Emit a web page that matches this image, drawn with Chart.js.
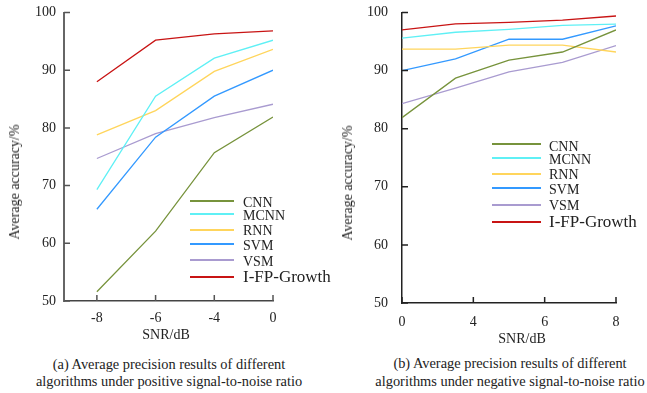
<!DOCTYPE html>
<html lang="en">
<head>
<meta charset="UTF-8">
<title>Average precision results</title>
<script src="https://cdn.jsdelivr.net/npm/chart.js"></script>
<style>
  body {
    margin: 0;
    width: 647px;
    height: 393px;
    background: #fff;
    position: relative;
    overflow: hidden;
    font-family: 'Liberation Serif', 'Times New Roman', serif;
    color: #222;
  }
  canvas { position: absolute; top: 0; }
  .t { position: absolute; white-space: nowrap; line-height: 1; }
  .c { transform: translate(-50%, -50%); }
  .ytitle { font-size: 14px; transform: translate(-50%, -50%) rotate(-90deg); }
  .xtitle { font-size: 14px; }
  .cap { font-size: 14.4px; }
  .lg-line { position: absolute; height: 2px; }
  .lg-text { position: absolute; font-size: 14px; line-height: 1; transform: translateY(-50%); white-space: nowrap; }
</style>
</head>
<body>
<canvas id="chartA" width="300" height="345" style="left:0;width:300px;height:345px"></canvas>
<canvas id="chartB" width="322" height="350" style="left:325px;width:322px;height:350px"></canvas>

<div class="t ytitle" style="left:15px;top:182px">Average accuracy/%</div>
<div class="t ytitle" style="left:348px;top:183px">Average accuracy/%</div>
<div class="t c xtitle" style="left:166px;top:335px">SNR/dB</div>
<div class="t c xtitle" style="left:522px;top:339px">SNR/dB</div>
<div class="t c cap" style="left:169px;top:364px">(a) Average precision results of different</div>
<div class="t c cap" style="left:169px;top:381px">algorithms under positive signal-to-noise ratio</div>
<div class="t c cap" style="left:510px;top:363px">(b) Average precision results of different</div>
<div class="t c cap" style="left:510px;top:381px">algorithms under negative signal-to-noise ratio</div>

<div id="legendA"></div>
<div id="legendB"></div>

<script>
  // series names and colours
  const names = ['CNN', 'MCNN', 'RNN', 'SVM', 'VSM', 'I-FP-Growth'];
  const colors = ['#77933c', '#5ff0f5', '#ffd55c', '#3399ff', '#a99bd0', '#c81414'];

  // (a) positive SNR
  const snrA = ['-8', '-6', '-4', '0'];
  const cnnA  = [51.6, 62.1, 75.7, 81.9];
  const mcnnA = [69.3, 85.5, 92.1, 95.2];
  const rnnA  = [78.8, 83.0, 89.8, 93.6];
  const svmA  = [65.9, 78.4, 85.5, 90.0];
  const vsmA  = [74.7, 79.0, 81.8, 84.1];
  const fpA   = [88.0, 95.2, 96.3, 96.8];

  // (b) negative SNR
  const snrB = [0, 2, 4, 6, 8];
  const tickLabelsB = ['0', '4', '6', '8'];
  const cnnB  = [81.9, 88.7, 91.8, 93.2, 97.0];
  const mcnnB = [95.6, 96.6, 97.1, 97.8, 98.0];
  const rnnB  = [93.7, 93.7, 94.4, 94.4, 93.2];
  const svmB  = [90.0, 92.0, 95.4, 95.4, 97.7];
  const vsmB  = [84.3, 87.0, 89.8, 91.4, 94.3];
  const fpB   = [97.0, 98.05, 98.3, 98.7, 99.4];

  const yTicks = [50, 60, 70, 80, 90, 100];

  // small inward tick marks, like the original figure
  const innerTicks = {
    id: 'innerTicks',
    afterDraw(chart, args, opts) {
      const ctx = chart.ctx;
      const xs = chart.scales.x, ys = chart.scales.y;
      ctx.save();
      ctx.strokeStyle = opts.color;
      ctx.lineWidth = 1.5;
      ctx.beginPath();
      xs.ticks.forEach(t => {
        const px = xs.getPixelForValue(t.value);
        ctx.moveTo(px, ys.bottom);
        ctx.lineTo(px, ys.bottom - 6);
      });
      ys.ticks.forEach(t => {
        const py = ys.getPixelForValue(t.value);
        ctx.moveTo(xs.left, py);
        ctx.lineTo(xs.left + 6, py);
      });
      ctx.stroke();
      ctx.restore();
    }
  };

  function makeChart(id, xs, seriesList, cfg) {
    const datasets = seriesList.map((vals, i) => ({
      label: names[i],
      data: xs.map((x, j) => ({ x: x, y: vals[j] })),
      borderColor: colors[i],
      borderWidth: 1.3,
      pointRadius: 0,
      tension: 0,
      fill: false
    }));
    return new Chart(document.getElementById(id), {
      type: 'line',
      data: { datasets: datasets },
      plugins: [innerTicks],
      options: {
        responsive: false,
        animation: false,
        layout: { padding: { top: cfg.top, right: cfg.right, left: 0, bottom: 0 } },
        plugins: {
          legend: { display: false },
          tooltip: { enabled: false },
          innerTicks: { color: cfg.tickColor }
        },
        scales: {
          x: {
            type: 'linear',
            min: cfg.xMin,
            max: cfg.xMax,
            grid: { display: false, drawTicks: false },
            border: { display: true, color: cfg.xBorder, width: 1.5 },
            afterBuildTicks: s => { s.ticks = cfg.tickVals.map(v => ({ value: v })); },
            afterFit: s => { s.height = cfg.xHeight; s.paddingLeft = 0; s.paddingRight = 0; },
            ticks: {
              padding: cfg.xPad,
              color: '#222',
              font: { family: "'Liberation Serif', serif", size: 14 },
              callback: (v, i) => cfg.tickLabels[i]
            }
          },
          y: {
            min: 50,
            max: 100,
            grid: { display: false, drawTicks: false },
            border: { display: true, color: cfg.yBorder, width: cfg.yBorderWidth },
            afterBuildTicks: s => { s.ticks = yTicks.map(v => ({ value: v })); },
            afterFit: s => { s.width = cfg.yWidth; s.paddingTop = 0; s.paddingBottom = 0; },
            ticks: {
              padding: cfg.yPad,
              color: '#222',
              font: { family: "'Liberation Serif', serif", size: 14 }
            }
          }
        }
      }
    });
  }

  makeChart('chartA', snrA.map((s, i) => i), [cnnA, mcnnA, rnnA, svmA, vsmA, fpA], {
    top: 12.5, right: 27, xMin: -0.56, xMax: snrA.length - 1,
    tickVals: snrA.map((s, i) => i), tickLabels: snrA,
    xHeight: 44, yWidth: 64, xPad: 9, yPad: 8,
    xBorder: '#444', yBorder: '#666', yBorderWidth: 2, tickColor: '#555'
  });

  const maxB = snrB[snrB.length - 1];
  makeChart('chartB', snrB, [cnnB, mcnnB, rnnB, svmB, vsmB, fpB], {
    top: 12.5, right: 31, xMin: 0, xMax: maxB,
    tickVals: tickLabelsB.map((s, i) => i * maxB / (tickLabelsB.length - 1)), tickLabels: tickLabelsB,
    xHeight: 47, yWidth: 77, xPad: 11, yPad: 14,
    xBorder: '#222', yBorder: '#222', yBorderWidth: 1.5, tickColor: '#222'
  });

  // legends in HTML
  function legend(el, x0, x1, tx, lineYs, textYs) {
    const box = document.getElementById(el);
    names.forEach((n, i) => {
      const ln = document.createElement('div');
      ln.className = 'lg-line';
      ln.style.left = x0 + 'px';
      ln.style.width = (x1 - x0) + 'px';
      ln.style.top = Math.round(lineYs[i] - 1) + 'px';
      ln.style.background = colors[i];
      box.appendChild(ln);
      const tx1 = document.createElement('div');
      tx1.className = 'lg-text';
      tx1.style.left = tx + 'px';
      tx1.style.top = textYs[i] + 'px';
      if (i === names.length - 1) tx1.style.fontSize = '17px';
      tx1.textContent = n;
      box.appendChild(tx1);
    });
  }
  legend('legendA', 190, 234, 243, [201, 213.7, 230, 244, 260.3, 277], [203, 215.5, 231, 245.5, 261.5, 276]);
  legend('legendB', 492, 541, 549, [144.3, 157.7, 174.3, 188.3, 204.7, 221.7], [147, 159.5, 174.5, 189.5, 205.5, 220.5]);
</script>
</body>
</html>
